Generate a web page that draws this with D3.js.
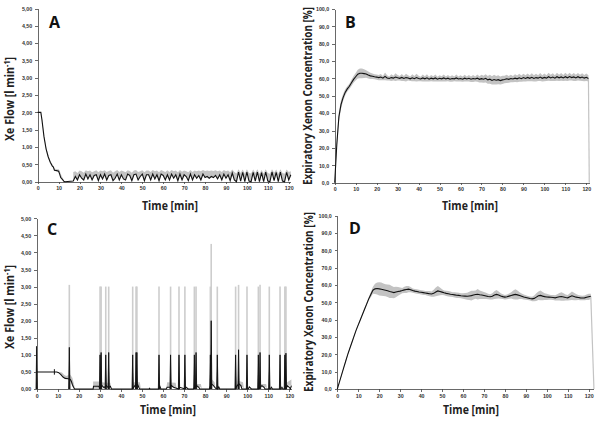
<!DOCTYPE html>
<html lang="en">
<head>
<meta charset="UTF-8">
<title>Xe flow and expiratory xenon concentration</title>
<script src="https://d3js.org/d3.v7.min.js"></script>
<style>
  body { margin: 0; background: #fff; }
  svg { display: block; font-family: "Liberation Sans", Arial, sans-serif; }
  .axis path, .axis line { stroke: #444; stroke-width: 0.8; shape-rendering: crispEdges; }
  .axis text { font-size: 5.3px; font-weight: bold; fill: #333; }
  .title { font-family: "Open Sans", sans-serif; font-weight: bold; fill: #222; }
  .letter { font-family: "Open Sans", sans-serif; font-weight: bold; font-size: 16px; fill: #111; }
</style>
</head>
<body>
<script>
  // ticks
  const timeTicks = [0, 10, 20, 30, 40, 50, 60, 70, 80, 90, 100, 110, 120];
  const flowTicks = [0, 0.5, 1, 1.5, 2, 2.5, 3, 3.5, 4, 4.5, 5];
  const flowTickLabels = ["0,00", "0,50", "1,00", "1,50", "2,00", "2,50", "3,00", "3,50", "4,00", "4,50", "5,00"];
  const concTicks = [0, 10, 20, 30, 40, 50, 60, 70, 80, 90, 100];
  const concTickLabels = ["0,0", "10,0", "20,0", "30,0", "40,0", "50,0", "60,0", "70,0", "80,0", "90,0", "100,0"];

  // A: Xe flow, start phase (irregular sampling) + 1-min samples from 17 to 121 min
  const timeA_start = [0, 1, 1.5, 2, 3, 4, 5, 6, 7, 7.5, 8, 9, 10, 10.5, 11, 12, 12.5, 13];
  const flowA_start = [2.0, 2.0, 2.0, 1.8, 1.3, 0.95, 0.72, 0.56, 0.45, 0.42, 0.33, 0.32, 0.3, 0.22, 0.12, 0.05, 0.01, 0];
  const hiA_start   = [2.0, 2.0, 2.0, 1.85, 1.35, 1.0, 0.78, 0.6, 0.5, 0.46, 0.38, 0.36, 0.36, 0.32, 0.22, 0.1, 0.03, 0];
  const timeA_run = d3.range(17, 122);
  const flowA_run = [
    0.02, 0.15, 0.05, 0.2, 0.1, 0.05, 0.22, 0.08, 0.2, 0.05,
    0.18, 0.2, 0.03, 0.2, 0.08, 0.22, 0.05, 0.18, 0.2, 0.03,
    0.1, 0.22, 0.05, 0.2, 0.08, 0.05, 0.22, 0.18, 0.03, 0.2,
    0.22, 0.05, 0.15, 0.22, 0.03, 0.2, 0.2, 0.05, 0.22, 0.08,
    0.2, 0.03, 0.22, 0.18, 0.05, 0.2, 0.05, 0.22, 0.1, 0.2,
    0.03, 0.22, 0.05, 0.2, 0.15, 0.03, 0.22, 0.05, 0.2, 0.1,
    0.18, 0.05, 0.22, 0.12, 0.15, 0.1, 0.15, 0.12, 0.18, 0.08,
    0.2, 0.05, 0.22, 0.1, 0.2, 0.03, 0.25, 0.05, 0.0, 0.28,
    0.02, 0.27, 0.0, 0.28, 0.02, 0.0, 0.27, 0.02, 0.28, 0.0,
    0.26, 0.0, 0.28, 0.02, 0.0, 0.28, 0.03, 0.27, 0.0, 0.28,
    0.02, 0.0, 0.27, 0.05, 0.2
  ];
  const hiA_run = [
    0.28, 0.3, 0.25, 0.32, 0.3, 0.26, 0.33, 0.3, 0.32, 0.27,
    0.3, 0.33, 0.27, 0.32, 0.3, 0.33, 0.28, 0.31, 0.33, 0.26,
    0.3, 0.34, 0.28, 0.32, 0.3, 0.27, 0.33, 0.31, 0.26, 0.32,
    0.34, 0.28, 0.3, 0.33, 0.27, 0.32, 0.32, 0.28, 0.34, 0.3,
    0.32, 0.27, 0.34, 0.31, 0.28, 0.33, 0.28, 0.34, 0.3, 0.32,
    0.27, 0.34, 0.29, 0.32, 0.3, 0.27, 0.34, 0.28, 0.32, 0.3,
    0.32, 0.3, 0.34, 0.31, 0.32, 0.31, 0.32, 0.31, 0.33, 0.3,
    0.32, 0.28, 0.34, 0.3, 0.32, 0.27, 0.35, 0.28, 0.24, 0.36,
    0.25, 0.35, 0.23, 0.36, 0.25, 0.24, 0.35, 0.25, 0.36, 0.23,
    0.34, 0.24, 0.36, 0.25, 0.23, 0.36, 0.26, 0.35, 0.23, 0.36,
    0.25, 0.23, 0.35, 0.28, 0.3
  ];

  // B: expiratory xenon concentration, 1-min samples 0..121
  const timeB = d3.range(0, 122);
  const concB = [
    0, 22, 38, 45, 49, 52, 54, 55.5, 57.5, 59.5, 61,
    62.5, 63, 63, 62.8, 62.6, 62, 61.5, 61.3, 61, 60.8,
    60.5, 60.8, 60.2, 61.2, 60.3, 60, 60.5, 60.2, 60.8, 60.4,
    60.1, 60.6, 60.0, 60.5, 60.3, 59.8, 60.4, 59.9, 60.5, 60.0,
    59.7, 60.3, 59.8, 60.4, 59.6, 60.2, 59.8, 60.3, 59.6, 60.1,
    59.8, 60.3, 59.7, 60.2, 59.6, 60.0, 59.8, 60.3, 59.7, 60.0,
    59.6, 60.2, 59.7, 60.1, 59.6, 60.0, 59.7, 60.2, 59.5, 59.9,
    59.6, 60.1, 59.2, 59.6, 58.9, 59.4, 59.0, 59.3, 58.8, 59.2,
    59.4, 59.8, 59.5, 60.0, 59.7, 60.2, 59.8, 60.4, 59.9, 60.5,
    60.0, 60.6, 60.1, 60.7, 60.0, 60.5, 60.2, 60.8, 60.1, 60.6,
    60.2, 61.0, 60.3, 60.8, 60.2, 61.0, 60.4, 60.9, 60.3, 61.0,
    60.4, 61.1, 60.5, 60.9, 60.3, 61.0, 60.4, 60.8, 60.2, 60.7, 60.0
  ];
  const sdB = [
    0, 3, 3, 2.5, 2, 1.8, 1.5, 1.5, 1.8, 2, 2.2,
    2.5, 2.8, 2.8, 2.5, 2.2, 2, 1.8, 1.6, 1.5, 1.5,
    1.5, 1.8, 1.2, 2.2, 1.5, 1.2, 2, 1.4, 2.2, 1.6,
    1.3, 2, 1.4, 2.2, 1.5, 1.3, 2, 1.5, 2.2, 1.6,
    1.3, 2, 1.5, 2.1, 1.4, 1.8, 1.5, 2, 1.4, 1.8,
    1.5, 2, 1.4, 1.8, 1.5, 1.9, 1.4, 2, 1.5, 1.8,
    1.5, 2, 1.4, 1.9, 1.6, 2, 1.5, 2.1, 1.8, 2.2,
    2, 2.4, 2.2, 2.6, 2.4, 2.8, 2.5, 2.6, 2.3, 2.4,
    2.2, 2.4, 2, 2.2, 1.8, 2.2, 1.9, 2.3, 1.8, 2.2,
    1.8, 2.2, 1.7, 2.3, 1.8, 2.2, 1.7, 2.3, 1.8, 2.2,
    1.7, 2.3, 1.8, 2.2, 1.7, 2.3, 1.8, 2.2, 1.7, 2.3,
    1.8, 2.2, 1.7, 2.3, 1.8, 2.2, 1.7, 2.2, 1.8, 2.1, 1.8
  ];
  const endTimeB = 121.4; // recording stops, value falls to 0

  // C: Xe flow, baseline [time, flow] and spikes
  const flowC = [
    [0, 0.5], [9.5, 0.5], [10.5, 0.48], [11.5, 0.42], [12.5, 0.35], [13.5, 0.31], [15, 0.3], [16, 0.28],
    [16.5, 0.22], [17, 0.12], [17.5, 0.05], [18, 0], [26.8, 0], [27, 0.08], [29.5, 0.08], [30, 0.02],
    [31, 0.1], [32, 0.04], [33, 0.1], [34, 0.04], [35, 0.08], [35.5, 0], [45.5, 0], [46, 0.05],
    [47, 0.12], [48, 0.12], [48.5, 0.05], [49, 0], [53.5, 0], [53.6, 0.03], [53.7, 0], [58, 0],
    [58.5, 0.08], [59, 0], [61.5, 0], [62, 0.05], [63.5, 0.05], [64, 0.1], [65, 0.05], [67.5, 0],
    [68, 0.05], [70.5, 0], [71, 0.05], [72, 0], [74.5, 0], [75, 0.05], [76, 0.1], [77, 0.05],
    [77.5, 0], [82, 0], [82.5, 0.08], [83, 0.15], [84, 0.1], [85, 0.02], [86, 0], [86.5, 0.06],
    [87, 0], [94.5, 0], [95, 0.08], [96, 0.15], [97, 0.1], [97.5, 0], [100.5, 0], [101, 0.06],
    [102, 0], [105.5, 0], [106, 0.05], [107, 0.1], [108, 0.05], [108.5, 0], [111, 0], [111.5, 0.05],
    [112, 0], [116, 0], [116.5, 0.05], [117, 0], [118.5, 0], [119, 0.1], [120, 0.05], [120.5, 0], [121, 0.1]
  ];
  // gray SD segments [time, lo, hi]
  const bandC = [
    [[11, 0.48, 0.5], [12, 0.4, 0.48], [13, 0.32, 0.42], [14, 0.3, 0.38], [15, 0.29, 0.4], [16, 0.22, 0.42], [17, 0.08, 0.32], [18, 0, 0.06]],
    [[26.8, 0, 0.22], [29.8, 0, 0.22], [31, 0.1, 0.2], [33, 0.1, 0.18], [35, 0.05, 0.18], [35.5, 0, 0]],
    [[45.5, 0, 0], [46, 0.05, 0.2], [49, 0.05, 0.2], [49.5, 0, 0]],
    [[61.5, 0, 0], [62, 0.05, 0.2], [66, 0.05, 0.18], [66.5, 0, 0]],
    [[74.5, 0, 0], [75, 0.05, 0.15], [78, 0.05, 0.15], [78.5, 0, 0]],
    [[82.5, 0, 0], [83, 0.15, 0.3], [84.5, 0.1, 0.2], [85, 0, 0]],
    [[95, 0, 0], [95.5, 0.1, 0.25], [98, 0.05, 0.2], [98.5, 0, 0]],
    [[106, 0, 0], [106.5, 0.05, 0.15], [109, 0.05, 0.15], [109.5, 0, 0]],
    [[118.5, 0, 0], [119, 0.1, 0.2], [121, 0.1, 0.28]]
  ];
  const spikeTimeC = [0, 15.5, 30.1, 30.6, 32.8, 34.2, 45.6, 47.2, 47.6, 58.1, 63.6, 67.6, 70.4, 74.9, 75.7,
                      82.5, 82.9, 85.8, 94.5, 95.9, 99.9, 105.3, 106.1, 110.5, 115.6, 117.9, 118.4];
  const spikeMeanC = [1.25, 1.22, 1.0, 1.07, 1.0, 1.07, 1.0, 1.07, 1.07, 1.0, 1.0, 1.0, 1.0, 1.0, 1.07,
                      1.0, 2.0, 1.0, 1.0, 1.15, 1.0, 1.0, 1.07, 1.0, 1.0, 1.0, 1.05];
  const spikeMaxC  = [1.25, 3.05, 3.0, 3.0, 3.0, 3.0, 3.0, 3.0, 3.0, 3.0, 3.0, 3.0, 3.0, 3.0, 3.0,
                      3.0, 4.25, 3.0, 3.0, 3.05, 3.0, 3.0, 3.05, 3.0, 3.0, 3.0, 3.0];
  const errC = [[8.4, 0.42, 0.58]];

  // D: expiratory xenon concentration, 1-min samples 0..121
  const timeD = d3.range(0, 122);
  const concD = [
    0, 4, 8, 12, 16, 20, 23.5, 27, 30.5, 34, 37,
    40, 43, 46, 49, 52, 54.5, 57, 57.8, 58, 57.8,
    57.6, 57.3, 57, 56.7, 56.3, 56, 55.6, 56, 56.3, 56.5,
    56.8, 57.2, 57.4, 57.6, 57.3, 56.8, 56.5, 56.3, 56, 55.8,
    55.6, 55.4, 55.2, 55, 54.8, 55.2, 56, 56.6, 56.3, 55.9,
    55.5, 55.2, 55, 54.7, 54.5, 54.3, 54.1, 54, 53.8, 53.7,
    53.6, 53.5, 53.7, 53.9, 54.2, 54.5, 54.7, 54.4, 54.2, 54,
    53.7, 53.4, 53.2, 53.5, 54.2, 54.6, 54.2, 53.7, 53.3, 53,
    53.2, 53.6, 54, 54.3, 54.6, 54.3, 53.9, 53.5, 53.1, 52.8,
    52.5, 52.2, 52, 52.3, 53, 53.8, 54, 53.6, 53.3, 53.1,
    53, 52.9, 52.8, 52.6, 52.9, 53.2, 53.4, 53.1, 52.8, 52.6,
    53.2, 53.8, 53.4, 53, 52.8, 52.6, 52.5, 52.6, 52.9, 53.2, 53.5
  ];
  const sdD = [
    0, 0.4, 0.5, 0.5, 0.6, 0.5, 0.6, 0.5, 0.6, 0.5, 0.6,
    0.6, 0.5, 0.7, 0.8, 1, 1.5, 2, 3, 3.5, 3.8,
    3.8, 3.6, 3.5, 3.6, 3.8, 3.5, 3.2, 3, 2.5, 2,
    1.5, 1.8, 2, 1.8, 1.5, 1.2, 1.2, 1.3, 1.2, 1.2,
    1.3, 1.2, 1.4, 1.5, 1.5, 2, 2.5, 2.8, 2.2, 1.6,
    1.4, 1.5, 1.6, 1.5, 1.4, 1.5, 1.6, 1.5, 1.4, 1.6,
    1.8, 2, 2.4, 2.8, 2.5, 2.4, 3, 2.5, 2.2, 2,
    1.8, 1.6, 1.5, 1.8, 2.2, 2.5, 2, 1.6, 1.4, 1.3,
    1.4, 1.5, 1.8, 2.5, 3, 2.6, 2, 1.6, 1.4, 1.3,
    1.2, 1.2, 1.3, 1.6, 2.2, 2.5, 2.8, 2.4, 2, 1.8,
    1.5, 1.4, 1.4, 1.5, 1.8, 2.2, 2.5, 2.2, 1.8, 1.6,
    2, 2.5, 2.2, 1.8, 1.5, 1.4, 1.3, 1.4, 1.6, 1.8, 1.5
  ];
  const endTimeD = 122.5;

  const width = 600, height = 421;
  const gray = "#c3c3c3", black = "#111";

  const svg = d3.select("body").append("svg")
    .attr("width", width).attr("height", height);
  svg.append("rect").attr("width", width).attr("height", height).attr("fill", "#fff");

  function makePanel(p) {
    const x = d3.scaleLinear().domain([0, p.xMax]).range([p.left, p.left + p.xMax * p.k]);
    const y = d3.scaleLinear().domain([0, p.yMax]).range([p.bottom, p.top]);
    const g = svg.append("g");

    g.append("g").attr("class", "axis")
      .attr("transform", `translate(0,${p.bottom})`)
      .call(d3.axisBottom(x).tickValues(timeTicks).tickSize(2.5).tickSizeOuter(0).tickPadding(2.5).tickFormat(d3.format("d")));
    g.append("g").attr("class", "axis")
      .attr("transform", `translate(${p.left},0)`)
      .call(d3.axisLeft(y).tickValues(p.yTicks).tickSize(2.5).tickSizeOuter(0).tickPadding(3)
        .tickFormat((d, i) => p.yLabels[i]));

    // panel letter
    g.append("text").attr("class", "letter").attr("x", p.letterX).attr("y", p.letterY).text(p.letter);

    // y title (long one is set small and stretched across the text direction)
    const yt = g.append("text").attr("class", "title")
      .attr("transform", `translate(${p.yTitleX},${p.yTitleY}) rotate(-90) scale(1,${p.yTitleStretch})`)
      .attr("text-anchor", "middle")
      .attr("font-size", p.yTitleSize)
      .attr("textLength", p.yTitleLen).attr("lengthAdjust", "spacingAndGlyphs");
    if (p.flow) {
      yt.append("tspan").text("Xe Flow [l min");
      yt.append("tspan").attr("font-size", 8).attr("dy", -4).text("-1");
      yt.append("tspan").attr("dy", 4).text("]");
    } else {
      yt.text("Expiratory Xenon Concentration [%]");
    }

    // x title
    g.append("text").attr("class", "title")
      .attr("x", p.xTitleX).attr("y", p.xTitleY)
      .attr("text-anchor", "middle").attr("font-size", 12.5)
      .attr("textLength", 56).attr("lengthAdjust", "spacingAndGlyphs")
      .text("Time [min]");

    return { g, x, y };
  }

  // ---- A ----
  {
    const { g, x, y } = makePanel({ left: 37.7, k: 2.092, xMax: 121, bottom: 181.7, top: 8.5, yMax: 5,
      yTicks: flowTicks, yLabels: flowTickLabels, letter: "A", letterX: 49, letterY: 28, flow: true,
      yTitleX: 14, yTitleY: 99, yTitleLen: 84, yTitleSize: 12, yTitleStretch: 1, xTitleX: 170, xTitleY: 210 });
    const start = timeA_start.map((t, i) => ({ t, v: flowA_start[i], hi: hiA_start[i] }));
    const run = timeA_run.map((t, i) => ({ t, v: flowA_run[i], hi: hiA_run[i] }));
    const band = d3.area().x(d => x(d.t)).y0(d => y(d.v)).y1(d => y(d.hi));
    g.append("path").attr("d", band(start)).attr("fill", gray);
    g.append("path").attr("d", band(run)).attr("fill", gray);
    const line = d3.line().x(d => x(d.t)).y(d => y(d.v));
    g.append("path").attr("d", line(start.concat(run)))
      .attr("fill", "none").attr("stroke", black).attr("stroke-width", 1.1);
  }

  // ---- B ----
  {
    const { g, x, y } = makePanel({ left: 334.7, k: 2.097, xMax: 121.5, bottom: 182.7, top: 9, yMax: 100,
      yTicks: concTicks, yLabels: concTickLabels, letter: "B", letterX: 345, letterY: 28, flow: false,
      yTitleX: 312, yTitleY: 96, yTitleLen: 178, yTitleSize: 9, yTitleStretch: 1.3, xTitleX: 470, xTitleY: 210 });
    const pts = timeB.map((t, i) => ({ t, v: concB[i], sd: sdB[i] }));
    g.append("path")
      .attr("d", d3.area().x(d => x(d.t)).y0(d => y(Math.max(0, d.v - d.sd))).y1(d => y(d.v + d.sd))(pts))
      .attr("fill", gray);
    const last = pts[pts.length - 1];
    g.append("line").attr("x1", x(last.t)).attr("x2", x(endTimeB))
      .attr("y1", y(last.v)).attr("y2", y(0)).attr("stroke", gray).attr("stroke-width", 1.2);
    g.append("path").attr("d", d3.line().x(d => x(d.t)).y(d => y(d.v))(pts))
      .attr("fill", "none").attr("stroke", black).attr("stroke-width", 1.1);
  }

  // ---- C ----
  {
    const { g, x, y } = makePanel({ left: 36.7, k: 2.105, xMax: 121, bottom: 389, top: 218.3, yMax: 5,
      yTicks: flowTicks, yLabels: flowTickLabels, letter: "C", letterX: 47, letterY: 235, flow: true,
      yTitleX: 14, yTitleY: 307, yTitleLen: 84, yTitleSize: 12, yTitleStretch: 1, xTitleX: 168, xTitleY: 414 });
    const band = d3.area().x(d => x(d[0])).y0(d => y(d[1])).y1(d => y(d[2]));
    bandC.forEach(seg => g.append("path").attr("d", band(seg)).attr("fill", gray));
    // gray spike maxima
    g.selectAll(".spk-max").data(spikeTimeC).join("line")
      .attr("x1", d => x(d)).attr("x2", d => x(d))
      .attr("y1", y(0)).attr("y2", (d, i) => y(spikeMaxC[i]))
      .attr("stroke", "#cdcdcd").attr("stroke-width", 1.6);
    g.append("path").attr("d", d3.line().x(d => x(d[0])).y(d => y(d[1]))(flowC))
      .attr("fill", "none").attr("stroke", black).attr("stroke-width", 1.1);
    // black spike means
    g.selectAll(".spk").data(spikeTimeC).join("path")
      .attr("d", (d, i) => d3.line()([[x(d - 0.3), y(0)], [x(d), y(spikeMeanC[i])], [x(d + 0.3), y(0)]]))
      .attr("fill", black).attr("stroke", black).attr("stroke-width", 0.9);
    g.selectAll(".err").data(errC).join("line")
      .attr("x1", d => x(d[0])).attr("x2", d => x(d[0]))
      .attr("y1", d => y(d[1])).attr("y2", d => y(d[2]))
      .attr("stroke", black).attr("stroke-width", 1);
  }

  // ---- D ----
  {
    const { g, x, y } = makePanel({ left: 337.3, k: 2.095, xMax: 122.5, bottom: 389, top: 215.7, yMax: 100,
      yTicks: concTicks, yLabels: concTickLabels, letter: "D", letterX: 349, letterY: 234, flow: false,
      yTitleX: 313, yTitleY: 302, yTitleLen: 180, yTitleSize: 9, yTitleStretch: 1.3, xTitleX: 471, xTitleY: 414 });
    const pts = timeD.map((t, i) => ({ t, v: concD[i], sd: sdD[i] }));
    g.append("path")
      .attr("d", d3.area().x(d => x(d.t)).y0(d => y(Math.max(0, d.v - d.sd))).y1(d => y(d.v + d.sd))(pts))
      .attr("fill", gray);
    const last = pts[pts.length - 1];
    g.append("line").attr("x1", x(last.t)).attr("x2", x(endTimeD))
      .attr("y1", y(last.v)).attr("y2", y(0)).attr("stroke", gray).attr("stroke-width", 1.2);
    g.append("path").attr("d", d3.line().x(d => x(d.t)).y(d => y(d.v))(pts))
      .attr("fill", "none").attr("stroke", black).attr("stroke-width", 1.1);
  }
</script>
</body>
</html>
